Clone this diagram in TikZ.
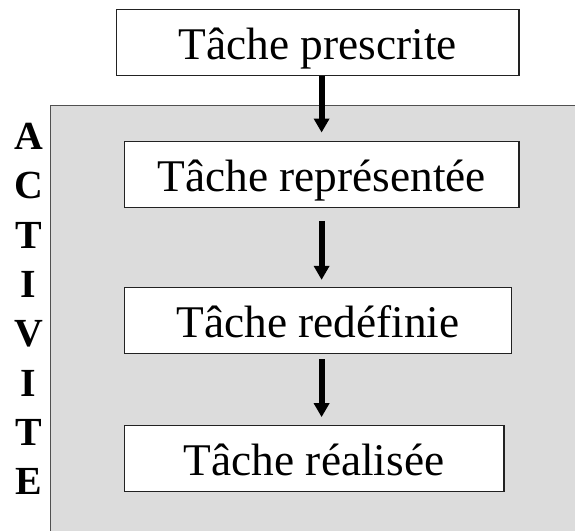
\documentclass[tikz,border=0pt]{standalone}
\usepackage{fontspec}
\setmainfont{Liberation Serif}
\usetikzlibrary{arrows.meta}
\definecolor{bgfill}{RGB}{220,220,220}
\definecolor{bgline}{RGB}{80,80,80}
\definecolor{boxline}{RGB}{34,34,34}
\begin{document}
\begin{tikzpicture}[x=1bp,y=-1bp,
  taskbox/.style={draw=boxline, line width=1.3bp, fill=white, rectangle, inner sep=0pt,
    minimum height=66bp, font=\fontsize{45.5}{50}\selectfont, text height=44.6bp, text depth=10bp},
  arr/.style={line width=6.2bp, -{Triangle[width=15bp,length=14bp]}, black},
  letter/.style={font=\bfseries\fontsize{40}{40}\selectfont, anchor=base, inner sep=0pt}]
\clip (0,0) rectangle (575,531);
\fill[white] (0,0) rectangle (575,531);
\draw[fill=bgfill, draw=bgline, line width=1.3bp] (50.7,105.3) rectangle (620,580);
\node[taskbox, minimum width=402.3bp] (a) at (317.8,42.7) {Tâche prescrite};
\node[taskbox, minimum width=394.7bp] (b) at (321.6,174.2) {Tâche représentée};
\node[taskbox, minimum width=387.4bp] (c) at (318,320.5) {Tâche redéfinie};
\node[taskbox, minimum width=379.7bp] (d) at (314.1,458.3) {Tâche réalisée};
\draw[arr, shorten >=8bp] (a.south -| b.north) -- (b.north);
\draw[arr, shorten <=13bp, shorten >=7bp] (b.south) -- (c.north -| b.south);
\draw[arr, shorten <=5bp, shorten >=7.5bp] (c.south -| b.south) -- (d.north -| b.south);
\foreach \c [count=\i] in {A,C,T,I,V,I,T,E}
  \node[letter] (l\i) at (28.5,{149.5+49.3*(\i-1)}) {\c};
\end{tikzpicture}
\end{document}
